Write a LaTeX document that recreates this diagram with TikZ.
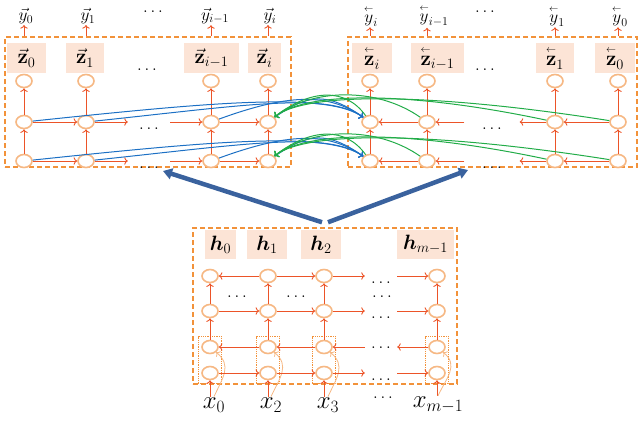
\documentclass[tikz,border=0pt]{standalone}
\usepackage{amsmath}
\usepackage{amssymb}
\usepackage{xcolor}
\usepackage{tikz}
\usetikzlibrary{shapes.geometric,fit,arrows.meta}

\definecolor{arrowc}{RGB}{236,84,40}
\definecolor{circc}{RGB}{246,184,132}
\definecolor{framec}{RGB}{242,146,58}
\definecolor{peach}{RGB}{252,228,214}
\definecolor{fwdc}{RGB}{28,112,196}
\definecolor{bwdc}{RGB}{34,172,72}
\definecolor{feedc}{RGB}{58,98,158}

\newcommand{\lvec}[1]{\overset{\scriptscriptstyle\leftarrow}{#1}}

\begin{document}
\begin{tikzpicture}[x=1pt,y=1pt,
    cell/.style={ellipse,draw=circc,line width=1.6pt,fill=white,minimum width=16pt,minimum height=13pt,inner sep=0pt},
    zlab/.style={fill=peach,minimum height=30pt,inner sep=1pt,font=\fontsize{20}{20}\selectfont},
    hlab/.style={fill=peach,minimum height=29pt,inner sep=1pt,font=\fontsize{20}{20}\selectfont},
    outl/.style={inner sep=1pt,font=\fontsize{18}{18}\selectfont},
    inl/.style={inner sep=1pt,font=\fontsize{24}{24}\selectfont},
    gap/.style={inner sep=0pt,text height=14pt,text depth=0pt,font=\fontsize{17}{17}\selectfont},
    dots/.style={inner sep=0pt,font=\fontsize{17}{17}\selectfont},
    frame/.style={draw=framec,line width=1.5pt,dash pattern=on 5pt off 3pt},
    grp/.style={draw=framec,line width=0.8pt,densely dotted,inner sep=3pt},
    link/.style={draw=arrowc,line width=0.9pt,->},
    skip/.style={draw=circc,line width=0.8pt,->},
    fwd/.style={draw=fwdc,line width=1pt,->},
    bwd/.style={draw=bwdc,line width=1pt,->},
    feed/.style={draw=feedc,line width=4.5pt,-{Triangle[length=9pt,width=11pt]}}]

    \useasboundingbox (0,0) rectangle (640,-437);

    % the three blocks
    \node[frame,minimum width=286pt,minimum height=130pt] (fwdbox) at (148,-102) {};
    \node[frame,minimum width=289pt,minimum height=130pt] (bwdbox) at (492.5,-102) {};
    \node[frame,minimum width=264pt,minimum height=156pt] (enc) at (325,-306) {};

    % forward decoder
    \node[zlab,minimum width=39pt] (zf0) at (26.5,-58) {$\vec{\mathbf{z}}_0$};
    \node[zlab,minimum width=38pt] (zf1) at (85,-58) {$\vec{\mathbf{z}}_1$};
    \node[zlab,minimum width=55pt] (zf2) at (211.5,-58) {$\vec{\mathbf{z}}_{i-1}$};
    \node[zlab,minimum width=33pt] (zf3) at (264.5,-58) {$\vec{\mathbf{z}}_i$};
    \node[dots] (zfd) at (147,-70) {$\ldots$};

    \node[outl] (yf0) at (26,-16) {$\vec{y}_0$};
    \node[outl] (yf1) at (88,-16) {$\vec{y}_1$};
    \node[dots] (yfd) at (153,-12) {$\ldots$};
    \node[outl] (yf2) at (215,-16) {$\vec{y}_{i-1}$};
    \node[outl] (yf3) at (270,-16) {$\vec{y}_i$};

    \foreach \i/\x in {1/24,2/86,3/211,4/268}{
        \node[cell] (lt\i) at (\x,-81) {};
        \node[cell] (lm\i) at (\x,-122) {};
        \node[cell] (lb\i) at (\x,-161) {};
        \draw[link] (lb\i) -- (lm\i);
        \draw[link] (lm\i) -- (lt\i);
    }
    \draw[link] (lt1 |- fwdbox.north) -- (lt1 |- yf0.south);
    \draw[link] (lt2 |- fwdbox.north) -- (lt2 |- yf1.south);
    \draw[link] (lt3 |- fwdbox.north) -- (lt3 |- yf2.south);
    \draw[link] (lt4 |- fwdbox.north) -- (lt4 |- yf3.south);

    \node[gap,minimum width=42pt] (lmd) at (149,-122) {$\ldots$};
    \node[gap,minimum width=42pt] (lbd) at (149,-161) {$\ldots$};
    \draw[link] (lm1) -- (lm2);
    \draw[link] (lm2) -- (lmd);
    \draw[link] (lmd) -- (lm3);
    \draw[link] (lm3) -- (lm4);
    \draw[link] (lb1) -- (lb2);
    \draw[link] (lb2) -- (lbd);
    \draw[link] (lbd) -- (lb3);
    \draw[link] (lb3) -- (lb4);

    % backward decoder
    \node[zlab,minimum width=40pt] (zb3) at (372,-58) {$\lvec{\mathbf{z}}_i$};
    \node[zlab,minimum width=53pt] (zb2) at (437.5,-58) {$\lvec{\mathbf{z}}_{i-1}$};
    \node[zlab,minimum width=38pt] (zb1) at (555,-58) {$\lvec{\mathbf{z}}_1$};
    \node[zlab,minimum width=40pt] (zb0) at (615,-58) {$\lvec{\mathbf{z}}_0$};
    \node[dots] (zbd) at (485,-70) {$\ldots$};

    \node[outl] (yb3) at (371,-16) {$\lvec{y}_i$};
    \node[outl] (yb2) at (434,-16) {$\lvec{y}_{i-1}$};
    \node[dots] (ybd) at (485,-12) {$\ldots$};
    \node[outl] (yb1) at (557,-16) {$\lvec{y}_1$};
    \node[outl] (yb0) at (620,-16) {$\lvec{y}_0$};

    \foreach \i/\x in {1/370,2/427,3/555,4/618}{
        \node[cell] (rt\i) at (\x,-81) {};
        \node[cell] (rm\i) at (\x,-122) {};
        \node[cell] (rb\i) at (\x,-161) {};
        \draw[link] (rb\i) -- (rm\i);
        \draw[link] (rm\i) -- (rt\i);
    }
    \draw[link] (rt1 |- bwdbox.north) -- (rt1 |- yb3.south);
    \draw[link] (rt2 |- bwdbox.north) -- (rt2 |- yb2.south);
    \draw[link] (rt3 |- bwdbox.north) -- (rt3 |- yb1.south);
    \draw[link] (rt4 |- bwdbox.north) -- (rt4 |- yb0.south);

    \node[gap,minimum width=55pt] (rmd) at (492,-122) {$\ldots$};
    \node[gap,minimum width=55pt] (rbd) at (492,-161) {$\ldots$};
    \draw[link] (rm4) -- (rm3);
    \draw[link] (rm3) -- (rmd);
    \draw[link] (rmd) -- (rm2);
    \draw[link] (rm2) -- (rm1);
    \draw[link] (rb4) -- (rb3);
    \draw[link] (rb3) -- (rbd);
    \draw[link] (rbd) -- (rb2);
    \draw[link] (rb2) -- (rb1);

    % encoder
    \node[hlab,minimum width=31pt] (h0) at (220.5,-244.5) {$\boldsymbol{h}_0$};
    \node[hlab,minimum width=40pt] (h1) at (267,-244.5) {$\boldsymbol{h}_1$};
    \node[hlab,minimum width=40pt] (h2) at (321,-244.5) {$\boldsymbol{h}_2$};
    \node[hlab,minimum width=57pt] (h3) at (425.5,-244.5) {$\boldsymbol{h}_{m-1}$};

    \node[inl] (x1) at (214,-405) {$x_0$};
    \node[inl] (x2) at (271,-405) {$x_2$};
    \node[inl] (x3) at (328,-405) {$x_3$};
    \node[dots] (xd) at (383,-398) {$\ldots$};
    \node[inl] (x4) at (438,-405) {$x_{m-1}$};

    \foreach \i/\x in {1/210,2/268,3/324,4/437}{
        \node[cell] (e1\i) at (\x,-276) {};
        \node[cell] (e2\i) at (\x,-311) {};
        \node[cell] (e3\i) at (\x,-347) {};
        \node[cell] (e4\i) at (\x,-373) {};
        \node[grp,fit=(e3\i)(e4\i)] (g\i) {};
        \draw[link] (e3\i) -- (e2\i);
        \draw[link] (e2\i) -- (e1\i);
        \draw[link] (e4\i |- x\i.north) -- (e4\i);
        \draw[skip] (x\i.north) to[out=65,in=-40,looseness=1.2] (e3\i);
    }

    \node[gap,minimum width=32pt] (e1d) at (381,-276) {$\ldots$};
    \node[gap,minimum width=32pt] (e2d) at (381,-311) {$\ldots$};
    \node[gap,minimum width=32pt,text height=3pt] (e3d) at (381,-347) {$\ldots$};
    \node[gap,minimum width=32pt] (e4d) at (381,-373) {$\ldots$};
    \node[dots] (ed1) at (237,-297) {$\ldots$};
    \node[dots] (ed2) at (296,-297) {$\ldots$};
    \node[dots] (ed3) at (382,-297) {$\ldots$};

    \draw[link] (e12) -- (e11);
    \draw[link] (e12) -- (e13);
    \draw[link] (e13) -- (e1d);
    \draw[link] (e1d) -- (e14);
    \draw[link] (e21) -- (e22);
    \draw[link] (e22) -- (e23);
    \draw[link] (e23) -- (e2d);
    \draw[link] (e2d) -- (e24);
    \draw[link] (e34) -- (e3d);
    \draw[link] (e3d) -- (e33);
    \draw[link] (e33) -- (e32);
    \draw[link] (e32) -- (e31);
    \draw[link] (e41) -- (e42);
    \draw[link] (e42) -- (e43);
    \draw[link] (e43) -- (e4d);
    \draw[link] (e4d) -- (e44);

    % cross links between the decoders
    \foreach \i/\a/\d in {1/6/180,2/6/150,3/20/70,4/35/40}{
        \draw[fwd] (lm\i) to[out=\a,in=145,out distance=\d,in distance=45] (rm1);
        \draw[fwd] (lb\i) to[out=\a,in=145,out distance=\d,in distance=45] (rb1);
    }
    \foreach \i/\a/\d in {1/125/35,2/145/55,3/168/130,4/171/160}{
        \draw[bwd] (rm\i) to[out=\a,in=38,out distance=\d,in distance=45] (lm4);
        \draw[bwd] (rb\i) to[out=\a,in=38,out distance=\d,in distance=45] (lb4);
    }

    % encoder feeds both decoders
    \coordinate (lin) at (163,-171);
    \coordinate (rin) at (468,-170);
    \draw[feed] ([shift={(-3,5)}]enc.north) -- (lin);
    \draw[feed] ([shift={(3,5)}]enc.north) -- (rin);
\end{tikzpicture}
\end{document}
